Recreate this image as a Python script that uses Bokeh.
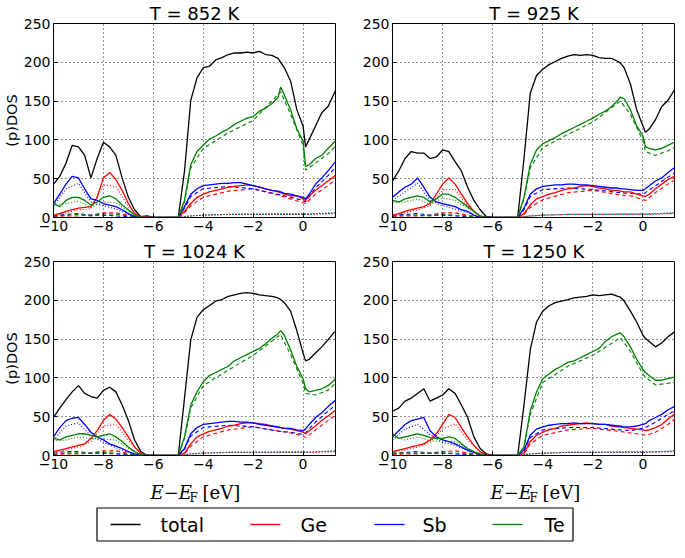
from bokeh.plotting import figure
from bokeh.models import Range1d, FixedTicker, Title
from bokeh.layouts import column, row
from bokeh.embed import file_html
from bokeh.resources import INLINE
from bokeh.core.properties import value

# ---------------- data ----------------
E = [-10, -9.75, -9.5, -9.25, -9, -8.75, -8.5, -8.25, -8, -7.75, -7.5, -7.25, -7, -6.75,
     -6.5, -6.25, -6, -5.5, -5, -4.75, -4.5, -4.25, -4, -3.75, -3.5, -3.25, -3, -2.75,
     -2.5, -2.25, -2, -1.75, -1.5, -1.25, -1, -0.9, -0.75, -0.5, -0.25, 0, 0.1, 0.25,
     0.5, 0.75, 1, 1.25, 1.3]

TOT_852 = [43, 53, 70, 93, 91, 80, 51, 76, 97, 91, 80, 51, 26, 10, 1, 2, 0, 0, 0, 60,
           151, 180, 193, 195, 203, 206, 210, 212, 212, 213, 212, 214, 210, 209, 205, 200,
           193, 176, 139, 118, 91, 101, 118, 135, 143, 160, 164]
GE_852 = [3, 5, 8, 10, 12, 13, 14, 26, 51, 58, 49, 35, 18, 5, 1, 1, 0, 0, 0, 8,
          18, 26, 30, 33, 35, 37, 39, 40, 41, 42, 41, 39, 37, 35, 33, 32,
          30, 28, 28, 24, 22, 28, 35, 41, 47, 53, 55]
SB_852 = [18, 30, 43, 53, 51, 37, 24, 22, 18, 16, 14, 10, 5, 1, 0, 0, 0, 0, 0, 14,
          30, 37, 41, 42, 43, 44, 44, 45, 45, 43, 41, 39, 37, 35, 34, 33,
          31, 30, 28, 26, 24, 30, 43, 51, 60, 70, 72]
TE_852 = [18, 14, 22, 26, 26, 22, 16, 20, 26, 28, 24, 16, 10, 3, 0, 0, 0, 0, 0, 22,
          68, 85, 93, 101, 105, 110, 114, 120, 124, 128, 130, 137, 141, 147, 155, 168,
          158, 139, 114, 99, 66, 68, 76, 80, 89, 97, 99]

TOT_925 = [47, 60, 76, 85, 83, 83, 76, 78, 87, 85, 72, 60, 39, 22, 10, 1, 0, 0, 0, 76,
           160, 183, 191, 197, 201, 205, 208, 210, 209, 210, 209, 206, 205, 205, 201, 199,
           193, 172, 139, 118, 110, 114, 126, 143, 151, 164, 166]
GE_925 = [3, 5, 8, 10, 12, 14, 18, 30, 43, 51, 43, 30, 18, 8, 1, 0, 0, 0, 0, 5,
          16, 24, 27, 30, 32, 35, 37, 38, 40, 41, 40, 38, 37, 35, 35, 34,
          33, 33, 30, 28, 27, 30, 37, 43, 49, 53, 55]
SB_925 = [26, 33, 39, 43, 51, 39, 26, 20, 18, 16, 14, 10, 8, 3, 0, 0, 0, 0, 0, 12,
          30, 37, 40, 41, 42, 42, 43, 43, 42, 42, 41, 40, 39, 38, 38, 37,
          37, 36, 35, 35, 37, 41, 47, 51, 58, 64, 65]
TE_925 = [22, 20, 24, 26, 28, 26, 20, 24, 30, 30, 26, 20, 14, 8, 2, 0, 0, 0, 0, 26,
          68, 87, 95, 99, 103, 108, 112, 116, 120, 124, 128, 133, 137, 143, 151, 155,
          153, 139, 118, 105, 91, 89, 87, 89, 93, 97, 98]

TOT_1024 = [49, 61, 72, 82, 90, 80, 76, 74, 84, 88, 82, 65, 45, 20, 5, 0, 0, 0, 0, 74,
            149, 178, 188, 193, 199, 201, 205, 207, 209, 210, 209, 207, 206, 205, 203, 201,
            197, 186, 161, 132, 122, 124, 132, 140, 149, 159, 159]
GE_1024 = [5, 7, 9, 11, 13, 15, 22, 32, 45, 53, 47, 36, 24, 11, 3, 0, 0, 0, 0, 3,
           15, 24, 28, 31, 33, 35, 38, 39, 41, 42, 42, 41, 40, 38, 36, 36,
           35, 34, 32, 30, 28, 32, 38, 45, 51, 57, 58]
SB_1024 = [24, 36, 45, 48, 49, 40, 30, 24, 20, 15, 12, 9, 5, 2, 0, 0, 0, 0, 0, 9,
           28, 36, 40, 41, 42, 43, 44, 44, 43, 43, 42, 40, 39, 38, 37, 36,
           35, 35, 33, 32, 34, 40, 49, 55, 63, 70, 72]
TE_1024 = [22, 20, 24, 26, 28, 28, 26, 24, 26, 28, 24, 18, 11, 5, 1, 0, 0, 0, 0, 24,
           65, 82, 95, 103, 107, 111, 115, 122, 126, 130, 134, 138, 144, 151, 157, 161,
           155, 136, 115, 99, 86, 82, 84, 86, 90, 97, 99]

TOT_1250 = [57, 61, 70, 74, 80, 86, 70, 74, 78, 86, 80, 65, 49, 24, 9, 2, 0, 0, 0, 65,
            136, 172, 186, 193, 197, 199, 201, 203, 204, 205, 207, 206, 207, 208, 205, 204,
            199, 186, 172, 155, 151, 147, 140, 145, 153, 159, 160]
GE_1250 = [5, 7, 9, 11, 13, 15, 20, 28, 40, 53, 49, 36, 24, 13, 5, 1, 0, 0, 0, 3,
           18, 26, 30, 33, 35, 38, 39, 40, 41, 42, 41, 40, 40, 38, 37, 37,
           36, 35, 34, 33, 32, 33, 36, 40, 47, 53, 55]
SB_1250 = [24, 32, 40, 45, 47, 49, 32, 24, 20, 18, 15, 11, 7, 4, 1, 0, 0, 0, 0, 7,
           26, 34, 37, 39, 40, 41, 41, 42, 41, 41, 41, 40, 40, 39, 38, 38,
           37, 37, 38, 40, 41, 45, 49, 53, 59, 63, 65]
TE_1250 = [28, 22, 24, 26, 28, 26, 23, 22, 22, 24, 22, 15, 9, 5, 2, 0, 0, 0, 0, 11,
           57, 82, 99, 105, 111, 115, 120, 122, 126, 130, 134, 138, 147, 153, 157, 158,
           153, 140, 124, 111, 107, 103, 97, 97, 99, 101, 101]

# coarser grid for p (dashed) and s (dotted) projections
EC = [-10, -9.5, -9, -8.5, -8, -7.5, -7, -6.5, -6, -5, -4.75, -4.5, -4, -3, -2, -0.9,
      -0.5, 0, 0.1, 0.5, 1, 1.3]

GE_P_852 = [1, 2, 2, 3, 6, 6, 3, 0, 0, 0, 6, 15, 26, 34, 37, 28, 24, 19, 18, 30, 41, 49]
GE_S_852 = [2, 6, 10, 11, 42, 40, 14, 1, 0, 0, 1, 2, 3, 4, 4, 4, 4, 4, 4, 4, 5, 5]
SB_P_852 = [2, 4, 5, 3, 3, 2, 1, 0, 0, 0, 12, 27, 37, 40, 37, 29, 26, 22, 20, 38, 54, 65]
SB_S_852 = [15, 37, 44, 20, 15, 11, 4, 0, 0, 0, 1, 2, 3, 4, 4, 4, 4, 4, 4, 5, 5, 6]
TE_P_852 = [2, 3, 4, 2, 5, 4, 2, 0, 0, 0, 20, 64, 89, 109, 125, 162, 133, 93, 61, 70, 82, 92]
TE_S_852 = [15, 18, 21, 13, 20, 19, 8, 0, 0, 0, 1, 2, 3, 4, 4, 5, 5, 5, 5, 5, 6, 6]

GE_P_925 = [1, 2, 2, 3, 6, 6, 3, 0, 0, 0, 4, 13, 23, 32, 35, 29, 28, 23, 22, 32, 43, 49]
GE_S_925 = [2, 6, 10, 15, 36, 36, 15, 1, 0, 0, 1, 2, 3, 4, 4, 4, 4, 4, 4, 4, 5, 5]
SB_P_925 = [3, 4, 5, 3, 3, 2, 1, 0, 0, 0, 10, 27, 36, 38, 36, 32, 31, 30, 32, 41, 52, 58]
SB_S_925 = [22, 33, 44, 22, 15, 11, 6, 0, 0, 0, 1, 2, 3, 4, 4, 4, 4, 4, 4, 5, 5, 6]
TE_P_925 = [2, 3, 3, 2, 4, 3, 2, 0, 0, 0, 24, 64, 90, 107, 123, 150, 133, 99, 85, 80, 86, 91]
TE_S_925 = [19, 20, 24, 17, 25, 22, 12, 2, 0, 0, 1, 2, 3, 4, 4, 5, 5, 5, 5, 5, 6, 6]

GE_P_1024 = [1, 2, 2, 3, 6, 6, 3, 0, 0, 0, 2, 12, 24, 33, 37, 31, 29, 25, 23, 33, 45, 52]
GE_S_1024 = [4, 7, 11, 18, 38, 40, 20, 2, 0, 0, 1, 2, 3, 4, 4, 4, 4, 4, 4, 4, 5, 5]
SB_P_1024 = [3, 5, 5, 3, 3, 2, 1, 0, 0, 0, 8, 25, 36, 39, 37, 31, 30, 27, 29, 43, 57, 65]
SB_S_1024 = [20, 38, 42, 25, 17, 10, 4, 0, 0, 0, 1, 2, 3, 4, 4, 4, 4, 4, 4, 5, 5, 6]
TE_P_1024 = [2, 3, 3, 3, 4, 3, 2, 0, 0, 0, 22, 61, 90, 110, 129, 156, 130, 93, 80, 78, 84, 93]
TE_S_1024 = [19, 20, 24, 22, 21, 20, 9, 1, 0, 0, 1, 2, 3, 4, 4, 5, 5, 5, 5, 5, 6, 6]

GE_P_1250 = [1, 2, 2, 3, 5, 6, 3, 1, 0, 0, 2, 15, 26, 33, 35, 31, 29, 27, 26, 30, 40, 48]
GE_S_1250 = [4, 7, 11, 17, 34, 41, 20, 4, 0, 0, 1, 2, 3, 4, 4, 4, 4, 4, 4, 4, 5, 5]
SB_P_1250 = [3, 4, 5, 3, 3, 2, 1, 0, 0, 0, 6, 23, 33, 36, 36, 33, 32, 35, 36, 43, 53, 58]
SB_S_1250 = [20, 34, 40, 27, 17, 13, 6, 1, 0, 0, 1, 2, 3, 4, 4, 4, 4, 4, 4, 5, 5, 6]
TE_P_1250 = [3, 3, 3, 3, 3, 3, 2, 0, 0, 0, 10, 53, 94, 115, 129, 152, 134, 105, 101, 91, 93, 95]
TE_S_1250 = [24, 20, 24, 19, 18, 18, 7, 2, 0, 0, 1, 2, 3, 4, 4, 5, 5, 5, 5, 5, 6, 6]

TITLES = ["T = 852 K", "T = 925 K", "T = 1024 K", "T = 1250 K"]
XTICKS = [-10, -8, -6, -4, -2, 0]
XTICK_LABELS = ["\u221210", "\u22128", "\u22126", "\u22124", "\u22122", "0"]
YTICKS = [0, 50, 100, 150, 200, 250]
LEG_LABELS = ["total", "Ge", "Sb", "Te"]

COL_TOT, COL_GE, COL_SB, COL_TE = "#000000", "#ff0000", "#0000ff", "#008000"

PANELS = [
    (TOT_852, GE_852, SB_852, TE_852, GE_P_852, SB_P_852, TE_P_852, GE_S_852, SB_S_852, TE_S_852),
    (TOT_925, GE_925, SB_925, TE_925, GE_P_925, SB_P_925, TE_P_925, GE_S_925, SB_S_925, TE_S_925),
    (TOT_1024, GE_1024, SB_1024, TE_1024, GE_P_1024, SB_P_1024, TE_P_1024, GE_S_1024, SB_S_1024, TE_S_1024),
    (TOT_1250, GE_1250, SB_1250, TE_1250, GE_P_1250, SB_P_1250, TE_P_1250, GE_S_1250, SB_S_1250, TE_S_1250),
]

FONT = "DejaVu Sans"
W = 675
BL = 52                      # left border of every plot (px)


def strip(height):
    s = figure(width=W, height=height, x_range=Range1d(0, W), y_range=Range1d(0, height),
               output_backend="svg", toolbar_location=None, title=None,
               x_axis_type=None, y_axis_type=None,
               min_border_left=0, min_border_right=0, min_border_top=0, min_border_bottom=0)
    s.outline_line_color = None
    s.background_fill_color = "white"
    s.border_fill_color = "white"
    return s


def make_panel(i, data):
    left = (i % 2 == 0)
    top = (i < 2)
    p = figure(width=340 if left else 335, height=238 if top else 239,
               x_range=Range1d(-10, 1.3), y_range=Range1d(0, 250),
               output_backend="svg", toolbar_location=None, title=None,
               min_border_left=BL, min_border_right=5 if left else 0,
               min_border_top=0, min_border_bottom=21 if top else 22)
    p.title = Title(text=TITLES[i], align="center", text_font=FONT, text_font_size="18px",
                    text_font_style="normal", text_color="black", standoff=0, offset=0)
    p.background_fill_color = "white"
    p.border_fill_color = "white"
    p.outline_line_color = "black"
    p.outline_line_width = 1
    p.outline_line_alpha = 1

    p.xaxis.ticker = FixedTicker(ticks=XTICKS)
    p.xaxis.major_label_overrides = dict(zip(XTICKS, XTICK_LABELS))
    p.yaxis.ticker = FixedTicker(ticks=YTICKS)
    for ax in (p.xaxis, p.yaxis):
        ax.major_label_text_font = FONT
        ax.major_label_text_font_size = "14px"
        ax.major_label_text_color = "black"
        ax.major_tick_in = 4
        ax.major_tick_out = 0
        ax.minor_tick_line_color = None
        ax.axis_line_color = "black"
        ax.major_tick_line_color = "black"
        ax.major_label_standoff = 3
    if left:
        p.yaxis.axis_label = "(p)DOS"
        p.yaxis.axis_label_text_font = FONT
        p.yaxis.axis_label_text_font_size = "14.5px"
        p.yaxis.axis_label_text_font_style = "normal"
        p.yaxis.axis_label_text_color = "black"
        p.yaxis.axis_label_standoff = 1
    p.grid.grid_line_color = "black"
    p.grid.grid_line_dash = "1 3"
    p.grid.grid_line_alpha = 0.85

    tot, ge, sb, te, gep, sbp, tep, ges, sbs, tes = data
    for arr, c in ((ges, COL_GE), (sbs, COL_SB), (tes, COL_TE)):
        p.line(EC, arr, line_color=c, line_width=1.1, line_dash="1 2")
    for arr, c in ((gep, COL_GE), (sbp, COL_SB), (tep, COL_TE)):
        p.line(EC, arr, line_color=c, line_width=1.1, line_dash="4 3")
    for arr, c in ((tot, COL_TOT), (ge, COL_GE), (sb, COL_SB), (te, COL_TE)):
        p.line(E, arr, line_color=c, line_width=1.3)
    return p


panels = [make_panel(i, d) for i, d in enumerate(PANELS)]

# footer: x-axis labels of the lower plots + legend box
FOOT_H = 65
footer = strip(FOOT_H)
XL_Y = FOOT_H - 15
for off in (0, 340):
    footer.text(x=[150 + off], y=[XL_Y], text=["E\u2212E"], text_font=value("DejaVu Serif"),
                text_font_style="italic", text_font_size=value("18px"),
                text_align="left", text_baseline="middle", text_color="black")
    footer.text(x=[189 + off], y=[XL_Y - 5], text=["F"], text_font=value("DejaVu Serif"),
                text_font_size=value("12px"), text_align="left", text_baseline="middle",
                text_color="black")
    footer.text(x=[202 + off], y=[XL_Y], text=["[eV]"], text_font=value("DejaVu Serif"),
                text_font_size=value("18px"), text_align="left", text_baseline="middle",
                text_color="black")
footer.quad(left=[96.5], right=[572.5], bottom=[1.5], top=[34.5], fill_color=None,
            line_color="black", line_width=1.2)
lx0 = [110, 250, 374, 492]
footer.segment(x0=lx0, y0=[18] * 4, x1=[v + 30 for v in lx0], y1=[18] * 4,
               line_color=[COL_TOT, COL_GE, COL_SB, COL_TE], line_width=1.3)
footer.text(x=[160, 300, 422, 544], y=[18] * 4, text=LEG_LABELS,
            text_font=value(FONT), text_font_size=value("19px"),
            text_baseline="middle", text_align="left", text_color="black")

layout = column(row(panels[0], panels[1]), row(panels[2], panels[3]), footer)

open("out.html", "w").write(file_html(layout, INLINE))
